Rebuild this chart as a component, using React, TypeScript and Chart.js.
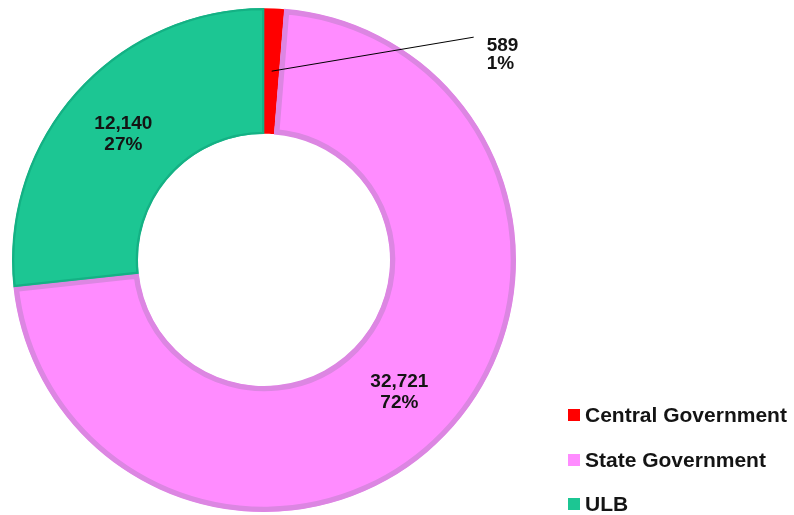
import React, { useEffect, useRef } from "react";
import { Chart, registerables } from "chart.js";

Chart.register(...registerables);

const categories = ["Central Government", "State Government", "ULB"];
const values = [589, 32721, 12140];
const fillColors = ["#FF0000", "#FF8CFF", "#1CC693"];
const edgeColors = ["#FF0000", "#DC86E2", "#14B184"];
const edgeWidths = [0, 5, 2];

const FONT = "'Liberation Sans', Arial, sans-serif";

const labelPlugin = {
  id: "customLabels",
  afterDatasetsDraw(chart: any) {
    const ctx = chart.ctx;
    const meta = chart.getDatasetMeta(0);
    const data = chart.data.datasets[0].data as number[];
    const total = data.reduce((a, b) => a + b, 0);
    ctx.save();
    ctx.fillStyle = "#141414";
    ctx.font = `bold 19px ${FONT}`;
    ctx.textBaseline = "middle";
    meta.data.forEach((arc: any, i: number) => {
      const p = arc.getProps(["x", "y", "startAngle", "endAngle", "innerRadius", "outerRadius"], true);
      const mid = (p.startAngle + p.endAngle) / 2;
      const r = (p.innerRadius + p.outerRadius) / 2;
      const cx = p.x + Math.cos(mid) * r;
      const cy = p.y + Math.sin(mid) * r;
      const l1 = data[i].toLocaleString("en-US");
      const l2 = Math.round((data[i] / total) * 100) + "%";
      if (i === 0) {
        const ex = cx + 202;
        const ey = cy - 34;
        ctx.strokeStyle = "#000";
        ctx.lineWidth = 1;
        ctx.beginPath();
        ctx.moveTo(cx, cy);
        ctx.lineTo(ex, ey);
        ctx.stroke();
        ctx.textAlign = "left";
        ctx.fillText(l1, ex + 13, ey + 9);
        ctx.fillText(l2, ex + 13, ey + 27);
      } else {
        ctx.textAlign = "center";
        ctx.fillText(l1, cx, cy - 10);
        ctx.fillText(l2, cx, cy + 11);
      }
    });
    // legend
    ctx.font = `bold 21px ${FONT}`;
    ctx.textAlign = "left";
    const rows = [415, 460, 504];
    categories.forEach((c, i) => {
      ctx.fillStyle = fillColors[i];
      ctx.fillRect(568, rows[i] - 6, 12, 12);
      ctx.fillStyle = "#141414";
      ctx.fillText(c, 585, rows[i] + 1);
    });
    ctx.restore();
  },
};

export default function App() {
  const ref = useRef<HTMLCanvasElement>(null);
  useEffect(() => {
    if (!ref.current) return;
    const chart = new Chart(ref.current, {
      type: "doughnut",
      data: {
        labels: categories,
        datasets: [
          {
            data: values,
            backgroundColor: fillColors,
            borderColor: edgeColors,
            borderWidth: edgeWidths,
            borderAlign: "inner",
            hoverBorderWidth: 0,
          } as any,
        ],
      },
      options: {
        animation: false,
        responsive: false,
        cutout: "50%",
        layout: { padding: { left: 12, top: 8, right: 278, bottom: 3 } },
        plugins: {
          legend: { display: false },
          tooltip: { enabled: false },
        },
      },
      plugins: [labelPlugin],
    });
    return () => chart.destroy();
  }, []);
  return (
    <div style={{ position: "absolute", left: 0, top: 0, width: 794, height: 515, background: "#fff" }}>
      <canvas ref={ref} width={794} height={515} style={{ width: 794, height: 515 }} />
    </div>
  );
}
